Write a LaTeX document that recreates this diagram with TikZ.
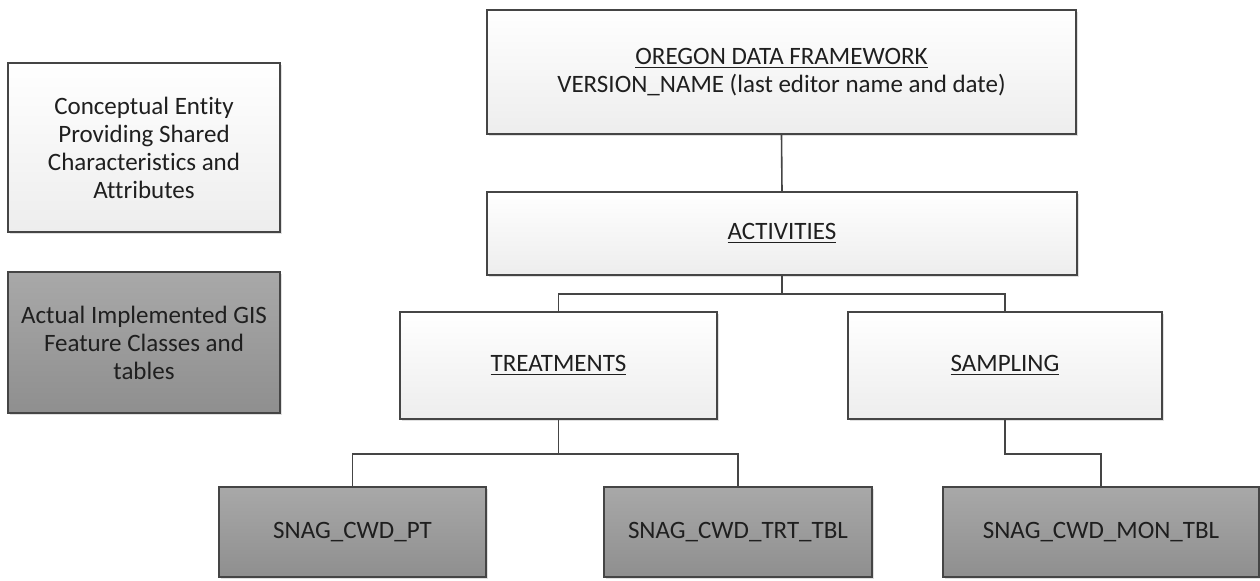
\documentclass[tikz,border=0pt]{standalone}
\usepackage{fontspec}
\setmainfont{Carlito}[Ligatures=NoCommon]
\usetikzlibrary{shadows}
\definecolor{edgecol}{rgb}{0.27,0.27,0.27}
\definecolor{textcol}{rgb}{0.12,0.12,0.12}
\tikzset{
  box/.style={draw=edgecol, line width=0.8pt, rectangle, align=center,
    text=textcol, font=\fontsize{12.5}{14}\selectfont, inner sep=0pt,
    drop shadow={shadow xshift=1.2pt, shadow yshift=-1.2pt, fill=black, opacity=0.12}},
  lightbox/.style={box, top color=white, bottom color=black!7},
  darkbox/.style={box, top color=black!34, bottom color=black!44},
  link/.style={draw=edgecol, line width=0.8pt},
}
\begin{document}
\begin{tikzpicture}[x=0.5pt,y=-0.5pt]
  \useasboundingbox (0,0) rectangle (1260,580);
%%
  % Legend
  \node [lightbox, minimum width=136pt, minimum height=84.5pt] (concept) at (144,147.5)
    {Conceptual Entity\\Providing Shared\\Characteristics and\\Attributes};
  \node [darkbox, minimum width=136pt, minimum height=70.5pt] (actual) at (144,342.5)
    {Actual Implemented GIS\\Feature Classes and\\tables};
  % Node: framework
  \node [lightbox, minimum width=294.5pt, minimum height=62pt] (framework) at (781.5,72)
    {\underline{OREGON DATA FRAMEWORK}\\VERSION\_NAME (last editor name and date)};
  % Node: activities
  \node [lightbox, minimum width=295pt, minimum height=41.5pt] (activities) at (782,233.5)
    {\underline{ACTIVITIES}};
  % Node: treatments
  \node [lightbox, minimum width=158.5pt, minimum height=53.5pt] (treatments) at (558.5,365.5)
    {\underline{TREATMENTS}};
  % Node: sampling
  \node [lightbox, minimum width=157pt, minimum height=53.5pt] (sampling) at (1005,365.5)
    {\underline{SAMPLING}};
  % Node: snagpt
  \node [darkbox, minimum width=133.5pt, minimum height=45pt] (snagpt) at (352.5,532)
    {SNAG\_CWD\_PT};
  % Node: snagtrt
  \node [darkbox, minimum width=134pt, minimum height=45pt] (snagtrt) at (738,532)
    {SNAG\_CWD\_TRT\_TBL};
  % Node: snagmon
  \node [darkbox, minimum width=158pt, minimum height=45pt] (snagmon) at (1101,532)
    {SNAG\_CWD\_MON\_TBL};
%
  % Edge: framework -> activities
  \draw [link] (framework.south) -- (activities.north);
  % Edge: activities -> treatments, sampling
  \draw [link] (activities.south) -- ++(0,18) -| (treatments.north);
  \draw [link] (activities.south) -- ++(0,18) -| (sampling.north);
  % Edge: treatments -> snagpt, snagtrt
  \draw [link] (treatments.south) -- ++(0,34) -| (snagpt.north);
  \draw [link] (treatments.south) -- ++(0,34) -| (snagtrt.north);
  % Edge: sampling -> snagmon
  \draw [link] (sampling.south) -- ++(0,34) -| (snagmon.north);
%
\end{tikzpicture}
\end{document}
